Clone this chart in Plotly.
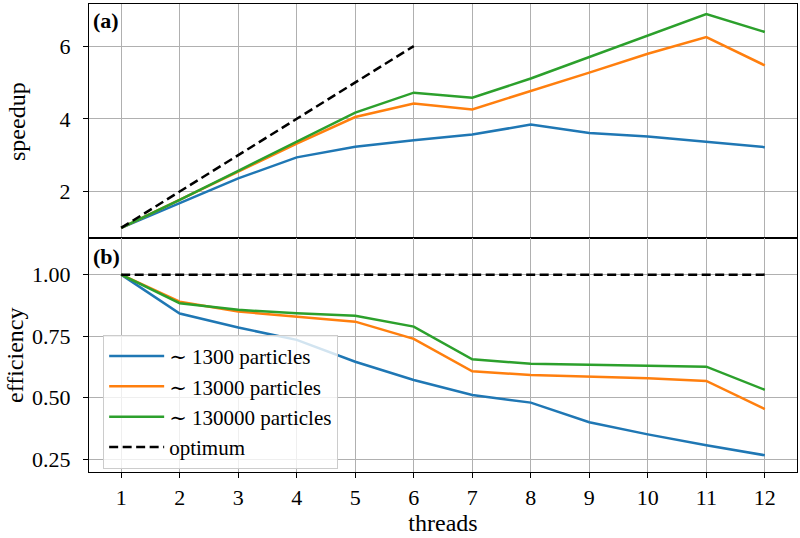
import plotly.graph_objects as go

threads = [1, 2, 3, 4, 5, 6, 7, 8, 9, 10, 11, 12]
speedup_1300 = [1.00, 1.69, 2.36, 2.94, 3.23, 3.41, 3.57, 3.84, 3.61, 3.51, 3.36, 3.22]
speedup_13000 = [1.00, 1.78, 2.55, 3.32, 4.05, 4.42, 4.26, 4.76, 5.27, 5.79, 6.25, 5.47]
speedup_130000 = [1.00, 1.77, 2.57, 3.37, 4.17, 4.72, 4.58, 5.11, 5.70, 6.29, 6.88, 6.39]
optimum_threads = [1, 2, 3, 4, 5, 6]
optimum_speedup = [1, 2, 3, 4, 5, 6]

eff_1300 = [1.00, 0.842, 0.785, 0.735, 0.646, 0.572, 0.511, 0.480, 0.400, 0.351, 0.307, 0.266]
eff_13000 = [1.00, 0.890, 0.850, 0.829, 0.809, 0.739, 0.607, 0.592, 0.586, 0.579, 0.568, 0.454]
eff_130000 = [1.00, 0.884, 0.857, 0.843, 0.833, 0.789, 0.656, 0.638, 0.634, 0.629, 0.626, 0.532]
eff_optimum = [1.0] * 12

labels = ["∼ 1300 particles", "∼ 13000 particles", "∼ 130000 particles", "optimum"]
colors = ["#1f77b4", "#ff7f0e", "#2ca02c", "black"]

FONT = "Liberation Serif, Times New Roman, DejaVu Serif, serif"
LW = 2.5

fig = go.Figure()
top_series = [speedup_1300, speedup_13000, speedup_130000]
bot_series = [eff_1300, eff_13000, eff_130000]
for i in range(3):
    fig.add_trace(go.Scatter(x=threads, y=top_series[i], mode="lines",
                             line=dict(color=colors[i], width=LW),
                             xaxis="x", yaxis="y", showlegend=False))
fig.add_trace(go.Scatter(x=optimum_threads, y=optimum_speedup, mode="lines",
                         line=dict(color="black", width=LW, dash="9px,4.5px"),
                         xaxis="x", yaxis="y", showlegend=False))
for i in range(3):
    fig.add_trace(go.Scatter(x=threads, y=bot_series[i], mode="lines", name=labels[i],
                             line=dict(color=colors[i], width=LW),
                             xaxis="x2", yaxis="y2"))
fig.add_trace(go.Scatter(x=threads, y=eff_optimum, mode="lines", name=labels[3],
                         line=dict(color="black", width=LW, dash="9px,4.5px"),
                         xaxis="x2", yaxis="y2"))

axis_common = dict(showline=True, mirror=True, linecolor="black", linewidth=1.3,
                   showgrid=True, gridcolor="#b0b0b0", gridwidth=1, zeroline=False,
                   automargin=False,
                   tickfont=dict(family=FONT, size=22, color="black"))

fig.update_layout(
    width=800, height=538,
    margin=dict(l=89, r=3, t=4, b=66),
    paper_bgcolor="white", plot_bgcolor="white",
    font=dict(family=FONT, size=22, color="black"),
    xaxis=dict(**axis_common, domain=[0, 1], anchor="y", range=[0.45, 12.55],
               tickvals=threads, showticklabels=False, ticks=""),
    yaxis=dict(**axis_common, domain=[0.5, 1], anchor="x", range=[0.72, 7.16],
               tickvals=[2, 4, 6], ticks="outside", ticklen=5, tickcolor="black",
               ticklabelstandoff=8),
    xaxis2=dict(**axis_common, domain=[0, 1], anchor="y2", range=[0.45, 12.55],
                tickvals=threads, ticktext=[str(t) for t in threads],
                ticks="outside", ticklen=5, tickcolor="black",
                title=dict(text="threads", font=dict(family=FONT, size=24), standoff=0)),
    yaxis2=dict(**axis_common, domain=[0, 0.5], anchor="x2", range=[0.198, 1.149],
                tickvals=[0.25, 0.5, 0.75, 1.0], ticktext=["0.25", "0.50", "0.75", "1.00"],
                ticks="outside", ticklen=5, tickcolor="black", ticklabelstandoff=8),
    legend=dict(x=0.02, y=0.293, xanchor="left", yanchor="top",
                bgcolor="rgba(255,255,255,0.8)", bordercolor="#cccccc", borderwidth=1,
                itemwidth=55,
                font=dict(family=FONT, size=21, color="black"), tracegroupgap=0),
    annotations=[
        dict(text="<b>(a)</b>", xref="paper", yref="paper", x=0.003, y=0.995,
             xanchor="left", yanchor="top", showarrow=False,
             font=dict(family=FONT, size=22, color="black")),
        dict(text="<b>(b)</b>", xref="paper", yref="paper", x=0.003, y=0.492,
             xanchor="left", yanchor="top", showarrow=False,
             font=dict(family=FONT, size=22, color="black")),
        dict(text="speedup", xref="paper", yref="paper", x=-0.1017, y=0.75,
             xanchor="center", yanchor="middle", textangle=-90, showarrow=False,
             font=dict(family=FONT, size=24, color="black")),
        dict(text="efficiency", xref="paper", yref="paper", x=-0.1045, y=0.25,
             xanchor="center", yanchor="middle", textangle=-90, showarrow=False,
             font=dict(family=FONT, size=24, color="black")),
    ],
)

fig.write_html("out.html", config={"displayModeBar": False},
               post_script="document.body.style.margin='0';document.body.style.overflow='hidden';")
